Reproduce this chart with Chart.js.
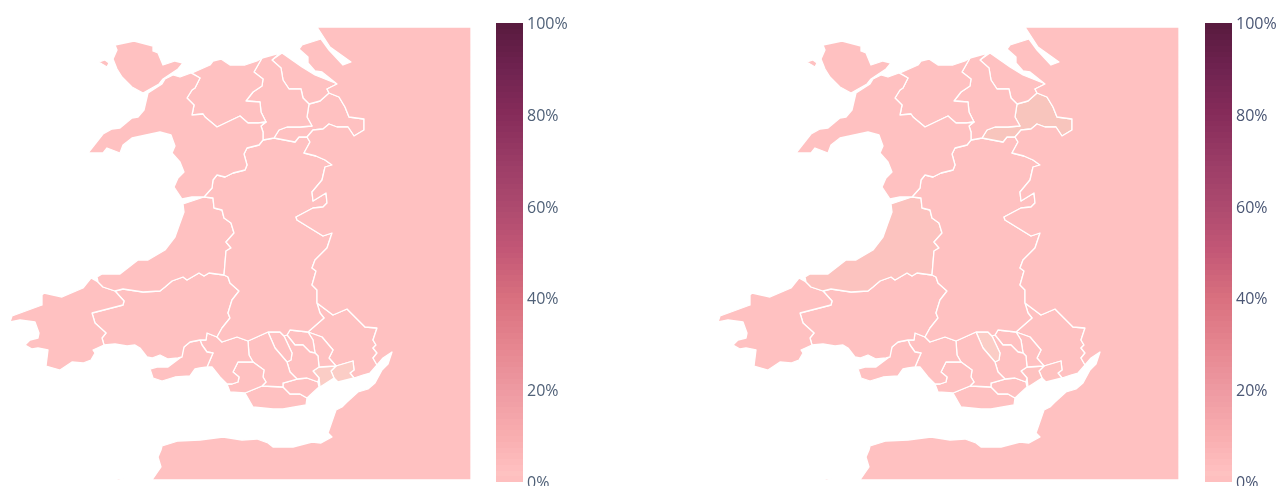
<!DOCTYPE html>
<html>
<head>
<meta charset="utf-8">
<title>Wales maps</title>
<script src="https://cdn.jsdelivr.net/npm/chart.js@4"></script>
<style>
  html, body { margin: 0; padding: 0; background: #fff; overflow: hidden; }
  canvas { position: absolute; top: 0; }
</style>
</head>
<body>
<canvas id="mapLeft" width="480" height="486" style="left:0"></canvas>
<canvas id="barLeft" width="90" height="486" style="left:496px"></canvas>
<canvas id="mapRight" width="480" height="486" style="left:708px"></canvas>
<canvas id="barRight" width="71" height="486" style="left:1205px"></canvas>
<script>
// region outlines in map units, x,y,x,y...
var anglesey = [115,45,134,41,153,46,153,51,158,53,163,65,175,61,183,63,178,69,163,79,159,84,143,93,132,87,122,77,117,69,113,59,117,50];
var holyIsland = [99,62,105,60,109,63,107,67,102,64];
var gwynedd = [191,73,180,77,173,75,165,79,162,84,148,93,144,110,138,117,132,118,120,128,112,129,103,134,88,153,103,153,107,148,120,153,123,145,132,138,160,132,171,135,175,146,172,153,180,162,184,172,178,178,174,187,182,199,192,197,204,197,212,188,213,180,217,175,225,177,233,173,245,170,247,165,244,154,247,148,259,145,263,140,263,132,261,126,266,122,258,123,248,123,240,116,217,127,205,117,203,114,192,115,194,105,187,98,192,90,195,88,200,78];
var conwy = [192,73,210,65,213,61,221,59,230,65,245,65,257,61,262,58,254,72,263,79,262,86,253,92,246,101,260,102,261,112,266,122,258,123,248,123,240,116,217,127,205,117,203,114,192,115,194,105,187,98,192,90,195,88,200,78];
var denbighshire = [262,58,280,53,272,60,281,68,283,80,289,89,301,89,303,98,309,104,307,117,312,126,300,127,287,127,279,130,274,138,263,140,263,132,261,126,266,122,261,112,260,102,246,101,253,92,262,86,263,79,254,72];
var flintshire = [282,53,302,67,315,75,335,83,337,84,327,89,329,93,320,101,309,104,303,98,301,89,289,89,283,80,281,68,272,60];
var wrexham = [309,104,320,101,329,93,339,97,345,107,349,117,364,119,364,130,354,136,348,127,337,127,329,124,323,129,313,130,307,137,299,137,295,142,274,138,279,130,287,127,300,127,312,126,307,117];
var powys = [274,138,295,142,299,137,307,137,310,142,304,153,316,156,325,160,332,165,325,167,322,180,312,192,313,201,326,193,327,203,323,207,313,208,296,217,297,220,323,236,332,233,327,248,315,260,312,268,316,271,312,285,317,290,317,303,320,313,324,318,308,332,290,330,287,335,284,336,280,332,268,332,248,341,237,337,222,342,217,337,222,328,230,318,228,313,232,300,239,291,230,283,228,277,224,275,226,251,231,248,226,242,234,233,231,223,224,218,222,210,214,208,213,198,204,197,212,188,213,180,217,175,225,177,233,173,245,170,247,165,244,154,247,148,259,145,263,140];
var ceredigion = [97,277,102,274,120,274,138,260,148,260,165,250,175,237,180,223,184,212,183,204,192,201,204,197,213,198,214,208,222,210,224,218,231,223,234,233,226,242,231,248,226,251,224,275,209,273,204,276,199,273,187,280,183,277,172,281,165,287,160,291,143,292,123,289,115,291,103,287,98,282];
var pembrokeshire = [91,278,83,288,62,297,44,293,42,295,42,305,12,316,10,322,20,320,35,322,39,333,38,338,30,340,25,345,32,349,38,348,48,350,46,366,60,370,72,362,83,363,91,360,95,353,93,350,104,345,102,338,106,333,95,323,92,313,123,305,124,301,115,291,103,287,98,282];
var carmarthenshire = [115,291,124,301,123,305,92,313,95,323,106,333,102,338,104,345,115,344,127,346,135,345,140,348,147,357,152,358,160,355,168,359,178,358,182,357,184,347,190,342,200,340,206,340,207,333,217,337,222,328,230,318,228,313,232,300,239,291,230,283,228,277,224,275,209,273,204,276,199,273,187,280,183,277,172,281,165,287,160,291,143,292,123,289];
var swansea = [200,340,202,345,207,352,213,353,207,367,200,368,195,369,190,376,175,377,162,381,153,378,150,369,157,367,168,367,180,358,184,347,190,342];
var neath = [200,340,206,340,207,333,217,337,222,342,237,337,248,341,249,355,253,362,238,362,233,372,239,377,238,382,232,384,227,384,220,377,212,367,207,367,213,353,207,352,202,345];
var bridgend = [238,362,253,362,264,370,263,377,266,382,262,386,245,393,230,392,227,384,232,384,238,382,239,377,233,372];
var rhondda = [248,341,268,332,275,348,287,362,290,372,297,379,283,383,283,387,262,386,266,382,263,377,264,370,253,362,249,355];
var merthyr = [268,332,280,332,284,336,292,353,291,360,287,362,275,348];
var caerphilly = [284,336,287,335,295,345,303,345,310,352,315,353,318,356,319,367,313,371,319,378,318,382,307,378,297,379,290,372,287,362,291,360,292,353];
var blaenau = [290,330,308,332,313,340,315,353,310,352,303,345,295,345,287,335];
var torfaen = [308,332,322,337,333,350,329,358,336,366,319,367,318,356,315,353,313,340];
var cardiff = [313,371,319,367,336,366,331,371,334,378,320,387,319,378];
var newport = [331,371,336,366,353,361,354,370,350,373,354,378,338,382,334,378];
var monmouthshire = [308,332,324,318,320,313,317,303,333,315,347,309,365,327,377,328,373,340,376,345,373,348,377,353,373,358,377,365,370,373,363,375,354,378,350,373,354,370,353,361,336,366,329,358,333,350,322,337];
var penarth = [283,383,297,379,307,378,318,382,319,387,307,398,300,394,290,394,283,387];
var glamorgan = [245,393,262,386,283,387,290,394,300,394,307,398,306,405,283,409,273,409,253,407];
var england = [317,27,471,27,471,480,152,480,161,467,158,457,161,450,162,446,178,441,200,440,223,437,242,440,257,439,268,443,273,447,293,447,312,442,321,443,332,437,328,433,336,410,342,407,347,402,358,392,368,389,375,383,382,370,388,364,392,352,383,358,377,365,373,358,377,353,373,348,376,345,373,340,377,328,365,327,347,309,333,315,317,303,317,290,312,285,316,271,312,268,315,260,327,248,332,233,323,236,297,220,296,217,313,208,323,207,327,203,326,193,313,201,312,192,322,180,325,167,332,165,325,160,316,156,304,153,310,142,307,137,313,130,323,129,329,124,337,127,348,127,354,136,364,130,364,119,349,117,345,107,339,97,329,93,327,89,337,84,322,72,315,71,308,63,308,57,299,49,302,45,321,39,329,50,343,65,351,62,330,47];
var englandSliver = [117,478,132,480,117,480];

var regions = [england, englandSliver, anglesey, holyIsland, gwynedd, conwy, denbighshire, flintshire, wrexham, powys, ceredigion, pembrokeshire, carmarthenshire, swansea, neath, bridgend, rhondda, merthyr, caerphilly, blaenau, torfaen, cardiff, newport, monmouthshire, penarth, glamorgan];
// percent per region, same order as regions
var valuesLeft  = [2,2,2,2,2,2,2,2,2,2,2,2,2,2,2,2,2,2,2,2,2,0,0,2,2,2];
var valuesRight = [2,2,2,2,2,2,2,2,1,2,1.6,2,2,2,2,2,2,0,2,2,2,1.8,1.8,2,2,2];

var scaleStops  = [0,1,2,10,20,30,40,50,60,70,80,90,100];
var scaleColors = ['#fbcdc6','#f8c5bd','#ffc1c1','#f9aeb0','#ee9aa2','#e5858f','#d9707f','#c45876','#ad4a6e','#9a3c66','#862c5a','#6f2350','#581a3e'];
var tickValues = [0,20,40,60,80,100];
var bandCount = 80;

function hexToRgb(h){
  return [parseInt(h.substr(1,2),16),parseInt(h.substr(3,2),16),parseInt(h.substr(5,2),16)];
}

function colorFor(v){   // colour scale lookup for a region value
  for(var i=1;i<scaleStops.length;i++){
    if(v<=scaleStops[i]){
      var t=(v-scaleStops[i-1])/(scaleStops[i]-scaleStops[i-1]);
      var a=hexToRgb(scaleColors[i-1]),b=hexToRgb(scaleColors[i]);
      return 'rgb('+Math.round(a[0]+(b[0]-a[0])*t)+','+Math.round(a[1]+(b[1]-a[1])*t)+','+Math.round(a[2]+(b[2]-a[2])*t)+')';
    }
  }
  return scaleColors[scaleColors.length-1];
}

function toPoints(flat){
  var pts=[];
  for(var i=0;i<flat.length;i+=2){
    pts.push({x:flat[i],y:flat[i+1]});
  }
  pts.push({x:flat[0],y:flat[1]});  // close the outline
  return pts;
}

function loadMap(id,values){
  var sets=regions.map(function(r,i){
    return {
      data: toPoints(r),
      showLine: true,
      fill: 'shape',
      backgroundColor: colorFor(values[i]),
      borderColor: '#ffffff',
      borderWidth: 1.3,
      borderJoinStyle: 'round',
      pointRadius: 0,
      tension: 0
    };
  });
  new Chart(document.getElementById(id),{
    type: 'scatter',
    data: { datasets: sets },
    options: {
      responsive: false,
      animation: false,
      events: [],
      plugins: { legend: {display:false}, tooltip: {enabled:false} },
      scales: {
        x: { type:'linear', display:false, min:0, max:480 },
        y: { type:'linear', display:false, min:0, max:486, reverse:true }
      }
    }
  });
}

function loadColorbar(id,labelColor){
  new Chart(document.getElementById(id),{
    type: 'bar',
    data: {
      labels: [''],
      datasets: [{
        data: [[0,100]],
        barPercentage: 1,
        categoryPercentage: 1,
        backgroundColor: function(c){
          var area=c.chart.chartArea;
          if(!area) return scaleColors[0];
          // stepped gradient, the scale bar is drawn in flat bands
          var g=c.chart.ctx.createLinearGradient(0,area.bottom,0,area.top);
          for(var i=0;i<bandCount;i++){
            var col=colorFor(i==0 ? 3 : (i+0.5)*100/bandCount);
            g.addColorStop(i/bandCount,col);
            g.addColorStop((i+1)/bandCount,col);
          }
          return g;
        }
      }]
    },
    options: {
      responsive: false,
      animation: false,
      events: [],
      layout: { padding: {top:23,bottom:4} },
      plugins: { legend: {display:false}, tooltip: {enabled:false} },
      scales: {
        x: { display:false },
        y: {
          position: 'right',
          min: 0,
          max: 100,
          afterBuildTicks: function(s){ s.ticks=tickValues.map(function(v){return {value:v};}); },
          afterFit: function(s){ s.width=s.chart.width-27; s.paddingTop=0; s.paddingBottom=0; },
          grid: { display:false, drawTicks:false },
          border: { display:false },
          ticks: {
            padding: 4,
            labelOffset: 1.5,
            autoSkip: false,
            maxRotation: 0,
            color: labelColor,
            font: { family:'"Open Sans"', size:16 },
            callback: function(v){ return v+'%'; }
          }
        }
      }
    }
  });
}

loadMap('mapLeft',valuesLeft);
loadColorbar('barLeft','#506178');
loadMap('mapRight',valuesRight);
loadColorbar('barRight','#4a5674');
</script>
</body>
</html>
